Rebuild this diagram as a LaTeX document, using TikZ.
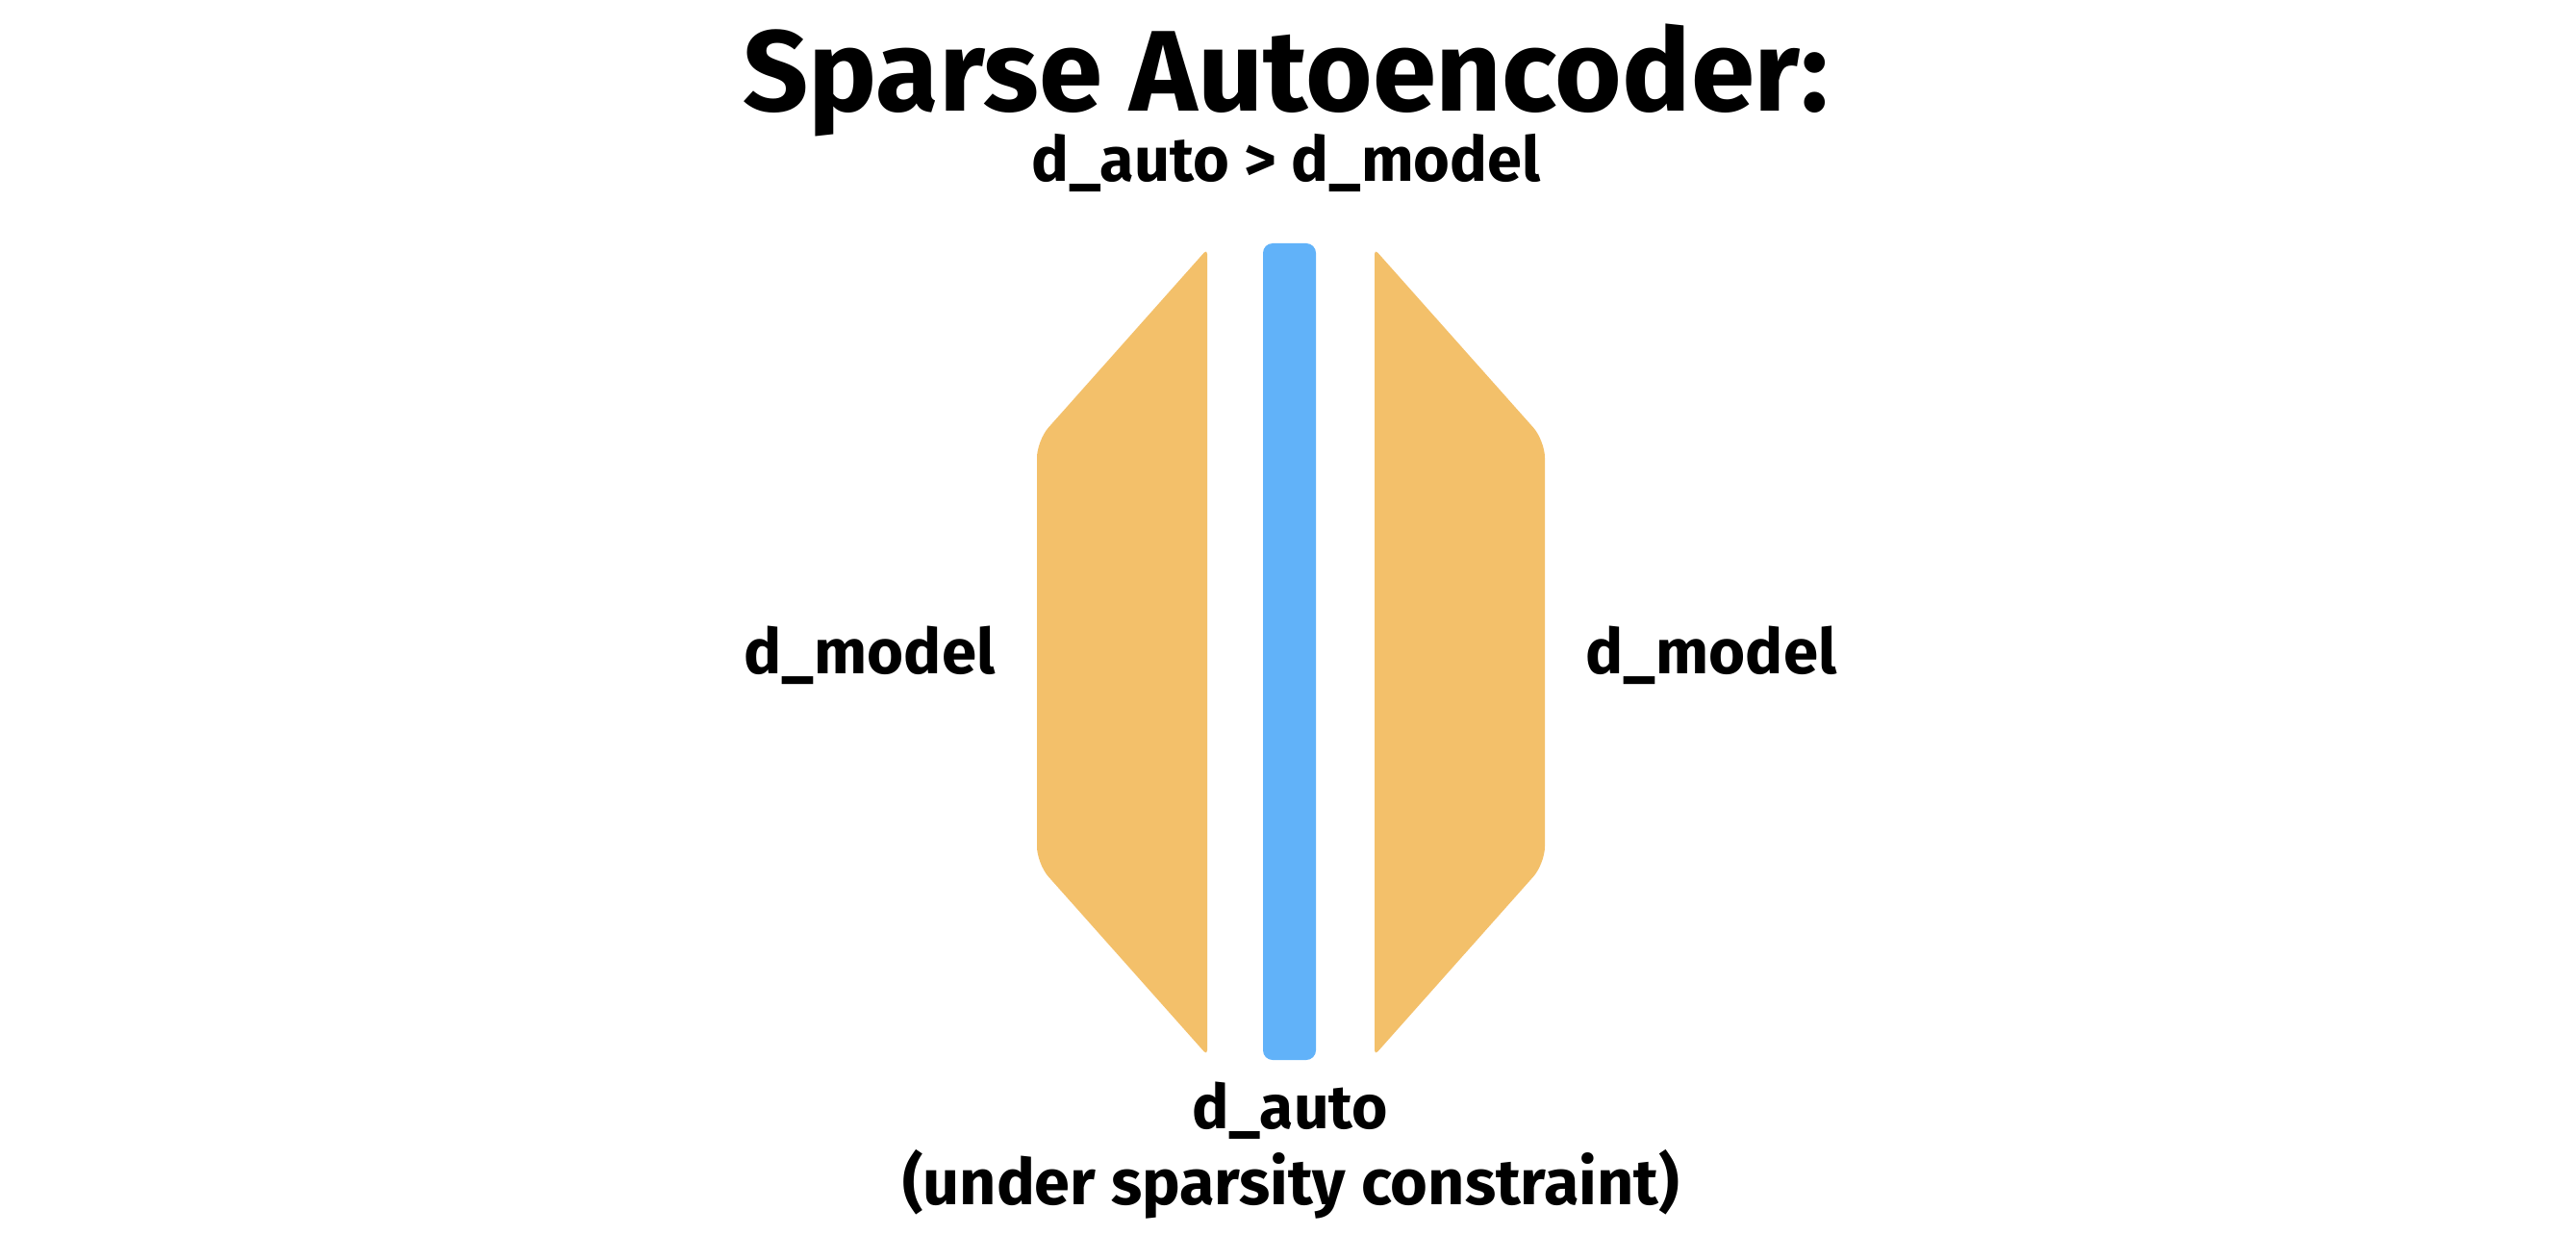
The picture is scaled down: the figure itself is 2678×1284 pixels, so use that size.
\documentclass[tikz,border=0pt]{standalone}
\usepackage{fontspec}
\setmainfont{Fira Sans}
\usepackage{graphicx}
\definecolor{orng}{RGB}{243,192,106}
\definecolor{skyb}{RGB}{97,178,249}
\begin{document}
\begin{tikzpicture}[x=1pt,y=-1pt,
  lbl/.style={inner sep=0pt,anchor=base,font=\bfseries\fontsize{60}{72}\selectfont,text=black}]
\useasboundingbox (0,0) rectangle (2678,1284);
\fill[white] (0,0) rectangle (2678,1284);
% encoder (left)
\fill[orng] (1255,678) [rounded corners=5pt] -- (1255,259) [rounded corners=18pt] -- (1078,458) -- (1078,898) [rounded corners=5pt] -- (1255,1097) -- cycle;
% decoder (right)
\fill[orng] (1429,678) [rounded corners=5pt] -- (1429,259) [rounded corners=18pt] -- (1606,458) -- (1606,898) [rounded corners=5pt] -- (1429,1097) -- cycle;
% latent
\fill[skyb, rounded corners=10pt] (1313,253) rectangle (1368,1102);
% texts
\node[lbl] (title) at (1337,116) {\resizebox{1129pt}{!}{Sparse Autoencoder:}};
\node[lbl] (sub) at (1337,189) {\resizebox{529pt}{!}{d\_auto > d\_model}};
\node[lbl] (lm) at (904,700) {\resizebox{261pt}{!}{d\_model}};
\node[lbl] (rm) at (1779,700) {\resizebox{261pt}{!}{d\_model}};
\node[lbl] (da) at (1341,1173) {\resizebox{203pt}{!}{d\_auto}};
\node[lbl] (sc) at (1342,1252) {\resizebox{808pt}{!}{(under sparsity constraint)}};
\end{tikzpicture}
\end{document}
